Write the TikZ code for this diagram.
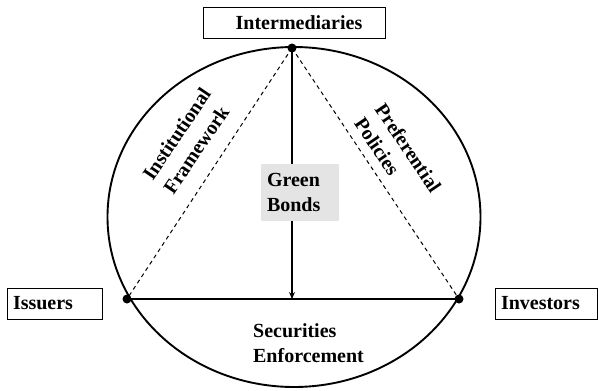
\documentclass[tikz,border=0pt]{standalone}
\usepackage{fontspec}
\setmainfont{Liberation Serif}
\usetikzlibrary{arrows.meta}
\definecolor{boxgray}{HTML}{E4E4E4}
\begin{document}
\begin{tikzpicture}[x=1pt,y=-1pt,
  lbl/.style={font=\fontsize{20}{25}\selectfont\bfseries, inner sep=0pt, align=left},
  boxst/.style={draw, line width=0.9pt, minimum height=31pt, inner sep=0pt},
  dot/.style={circle, fill=black, inner sep=0pt, minimum size=9pt},
  dashline/.style={line width=1pt, dash pattern=on 4pt off 3.5pt},
  solidline/.style={line width=1.8pt},
  arrowline/.style={line width=1.5pt, -{Stealth[length=7pt,width=6pt]}},
]
\useasboundingbox (0,0) rectangle (598,391);
\fill[white] (0,0) rectangle (598,391);
\draw[line width=1.9pt] (294,217) ellipse [x radius=186.5, y radius=170];
\node[dot] (top) at (292,48) {};
\node[dot] (L) at (127,299) {};
\node[dot] (R) at (459,299) {};
\draw[dashline] (top.center) -- (L.center);
\draw[dashline] (top.center) -- (R.center);
\draw[solidline] (L.center) -- (R.center);
\draw[arrowline] (top.center) -- (top.center |- L.center);
\node[lbl, fill=boxgray, text width=66pt, inner xsep=6pt, minimum height=57pt] (gb) at (300,192.5) {Green\\Bonds};
\node[boxst, minimum width=182pt] (intbox) at (294,22.5) {};
\node[lbl] (int) at (299,22.5) {Intermediaries};
\node[boxst, lbl, inner xsep=6pt, text width=83pt, minimum height=31pt] (iss) at (54.5,303.5) {Issuers};
\node[boxst, lbl, inner xsep=6pt, text width=90pt, minimum height=31pt] (inv) at (546,303.5) {Investors};
\node[lbl] (sec) at (308.5,343) {Securities\\Enforcement};
\node[lbl, rotate=56] (inst) at (187,141) {Institutional\\Framework};
\node[lbl, rotate=-56] (pref) at (398,155) {Preferential\\Policies};
\end{tikzpicture}
\end{document}
